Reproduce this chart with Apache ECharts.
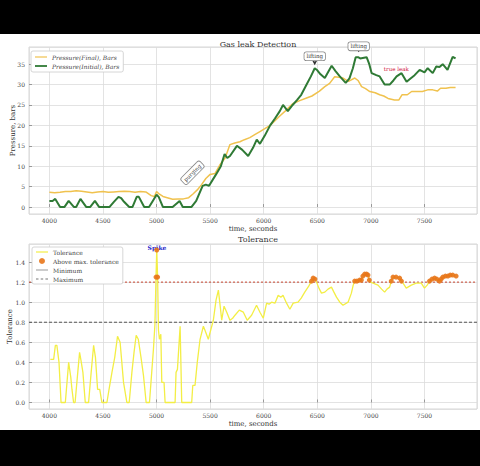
<!DOCTYPE html>
<html>
<head>
<meta charset="utf-8">
<script src="https://cdn.jsdelivr.net/npm/echarts@6/dist/echarts.min.js"></script>
<style>
  html, body { margin: 0; padding: 0; background: #000; }
  #chart { position: absolute; left: 0; top: 34px; width: 480px; height: 396px; background: #fff; }
</style>
</head>
<body>
<div id="chart"></div>
<script>
// ─── data ───────────────────────────────────────────────────
const finalTime = [4000, 4050, 4100, 4150, 4200, 4250, 4300, 4350, 4400, 4450, 4500, 4550, 4600, 4650, 4700, 4750, 4800, 4850, 4900, 4950, 4980, 5000, 5020, 5060, 5100, 5150, 5200, 5250, 5300, 5340, 5380, 5420, 5460, 5500, 5545, 5590, 5640, 5685, 5730, 5778, 5820, 5870, 5920, 5965, 6010, 6060, 6100, 6150, 6200, 6270, 6330, 6400, 6450, 6520, 6570, 6615, 6662, 6700, 6740, 6790, 6850, 6880, 6913, 6950, 6990, 7040, 7082, 7120, 7160, 7220, 7260, 7290, 7340, 7380, 7430, 7480, 7530, 7577, 7620, 7650, 7700, 7740, 7790];
const finalP = [3.6, 3.5, 3.6, 3.8, 3.8, 4.0, 3.9, 3.7, 3.5, 3.7, 3.8, 3.6, 3.7, 3.8, 3.9, 3.8, 3.6, 3.8, 3.7, 2.8, 2.6, 3.8, 3.3, 2.6, 2.3, 1.9, 2.0, 2.0, 2.3, 3.2, 4.2, 5.5, 7.0, 8.0, 8.2, 10.3, 12.0, 15.3, 15.7, 16.0, 16.5, 17.0, 17.8, 18.5, 19.2, 20.0, 21.0, 22.3, 23.5, 25.3, 26.0, 26.7, 27.2, 28.4, 29.5, 30.3, 31.9, 31.8, 31.6, 30.8, 31.6, 31.0, 29.5, 29.0, 28.3, 28.0, 27.5, 27.2, 26.6, 26.2, 26.2, 27.5, 27.5, 28.3, 28.3, 28.3, 28.7, 28.7, 28.4, 29.1, 29.1, 29.3, 29.3];

const initTime = [4000, 4030, 4055, 4100, 4140, 4180, 4230, 4250, 4290, 4345, 4380, 4425, 4465, 4560, 4600, 4645, 4670, 4690, 4745, 4775, 4815, 4835, 4885, 4930, 4965, 5000, 5020, 5060, 5150, 5215, 5245, 5325, 5370, 5430, 5460, 5490, 5555, 5600, 5635, 5660, 5685, 5750, 5800, 5855, 5900, 5935, 5965, 6010, 6060, 6105, 6150, 6180, 6225, 6270, 6310, 6350, 6400, 6440, 6476, 6500, 6530, 6570, 6600, 6634, 6670, 6710, 6765, 6800, 6832, 6858, 6880, 6900, 6960, 6985, 7007, 7050, 7082, 7128, 7175, 7210, 7240, 7286, 7333, 7370, 7408, 7455, 7500, 7530, 7577, 7610, 7640, 7670, 7715, 7763, 7790];
const initP = [1.5, 1.5, 2.0, 0, 0, 1.5, 0, 0, 2.0, 0, 0, 1.5, 0, 0, 1.2, 2.5, 2.2, 1.5, 0, 0, 2.5, 2.5, 0, 0, 1.5, 3.0, 2.5, 0, 0, 1.5, 0, 0, 1.5, 5.2, 5.5, 5.2, 8.0, 10.0, 13.0, 12.0, 12.5, 15.0, 14.0, 12.5, 14.5, 16.5, 15.5, 17.5, 20.0, 21.7, 23.5, 25.0, 23.5, 25.0, 26.2, 27.5, 30.0, 32.0, 34.0, 33.5, 32.5, 31.6, 33.0, 34.6, 33.3, 32.0, 30.4, 31.5, 34.0, 36.7, 36.7, 36.4, 36.7, 35.0, 32.8, 32.3, 32.0, 30.0, 30.0, 31.0, 32.0, 32.8, 30.7, 31.5, 32.3, 33.6, 33.0, 34.0, 32.8, 34.4, 34.3, 35.0, 33.6, 36.8, 36.4];

const tolTime = [4009, 4040, 4056, 4070, 4090, 4109, 4149, 4180, 4200, 4211, 4226, 4240, 4265, 4282, 4295, 4313, 4335, 4366, 4390, 4413, 4430, 4450, 4470, 4490, 4537, 4560, 4584, 4610, 4636, 4660, 4692, 4723, 4745, 4770, 4790, 4810, 4830, 4855, 4878, 4903, 4934, 4955, 4971, 4985, 4995, 5002, 5010, 5018, 5027, 5040, 5049, 5070, 5080, 5173, 5182, 5195, 5220, 5235, 5328, 5338, 5359, 5380, 5406, 5437, 5452, 5483, 5505, 5530, 5555, 5577, 5595, 5608, 5630, 5655, 5685, 5710, 5732, 5772, 5810, 5846, 5887, 5933, 5965, 5996, 6027, 6050, 6073, 6105, 6135, 6160, 6180, 6213, 6244, 6275, 6320, 6350, 6383, 6420, 6446, 6461, 6478, 6493, 6515, 6539, 6570, 6600, 6632, 6655, 6679, 6710, 6740, 6787, 6818, 6835, 6849, 6870, 6895, 6911, 6925, 6942, 6960, 6973, 6985, 7000, 7020, 7066, 7100, 7128, 7150, 7175, 7190, 7206, 7235, 7268, 7285, 7300, 7330, 7377, 7423, 7470, 7500, 7525, 7547, 7570, 7594, 7615, 7640, 7655, 7671, 7695, 7718, 7740, 7764, 7795];
const tolVal = [0.43, 0.43, 0.57, 0.57, 0.40, 0, 0, 0.40, 0.25, 0.13, 0, 0, 0.30, 0.50, 0.42, 0.30, 0, 0, 0.30, 0.57, 0.45, 0.13, 0.13, 0, 0, 0.15, 0.30, 0.45, 0.66, 0.60, 0.20, 0, 0, 0.30, 0.50, 0.67, 0.63, 0.45, 0.27, 0, 0, 0.30, 0.53, 0.78, 1.25, 1.52, 1.25, 0.72, 0.63, 0.68, 0.20, 0.20, 0, 0, 0.30, 0.33, 0.76, 0, 0, 0.17, 0.17, 0.40, 0.63, 0.76, 0.72, 0.63, 0.72, 0.82, 1.02, 1.12, 0.95, 0.82, 0.96, 0.90, 0.82, 0.84, 0.87, 0.92, 0.90, 0.82, 0.87, 0.97, 0.90, 0.84, 0.99, 0.98, 1.00, 0.99, 1.07, 1.05, 1.07, 0.99, 0.93, 0.99, 1.00, 1.04, 1.10, 1.16, 1.21, 1.24, 1.23, 1.20, 1.14, 1.09, 1.10, 1.13, 1.15, 1.10, 1.05, 1.00, 0.97, 1.00, 1.09, 1.17, 1.21, 1.21, 1.22, 1.22, 1.26, 1.28, 1.28, 1.27, 1.22, 1.20, 1.19, 1.17, 1.13, 1.10, 1.13, 1.15, 1.21, 1.25, 1.25, 1.24, 1.21, 1.19, 1.14, 1.17, 1.19, 1.19, 1.14, 1.17, 1.21, 1.23, 1.24, 1.23, 1.21, 1.23, 1.25, 1.26, 1.26, 1.27, 1.27, 1.26];

const tolMin = 0.8;
const tolMax = 1.2;
const timeRange = [3810, 7990];
const pressRange = [-1.7, 39.2];
const tolRange = [-0.065, 1.58];

// annotations: [time, value]
const purgingAt = [5335, 8.4];
const lifting1At = [6476, 34.0];
const lifting2At = [6886, 37.4];
const trueLeakAt = [7237, 33.8];
const spikeAt = [5004, 1.55];

const pairs = (xs, ys) => xs.map((x, i) => [x, ys[i]]);
const abovePts = pairs(tolTime, tolVal).filter(p => p[1] > tolMax);

const SERIF = '"DejaVu Serif", "Liberation Serif", serif';
const GRID_LINE = { lineStyle: { color: '#dcdcdc', width: 0.8 } };

// legend icons: thin line / dashed line inside a 12x6 box
const ICON_LINE = 'path://M0,0M12,6M0,2.4h12v1.2h-12z';
const ICON_THICK = 'path://M0,0M12,6M0,2.1h12v1.8h-12z';
const ICON_DASH = 'path://M0,0M12,6M0,2.5h2.5v1h-2.5zM4.7,2.5h2.5v1h-2.5zM9.4,2.5h2.6v1h-2.6z';

function xAxisFor(gridIndex) {
  return {
    type: 'value', gridIndex,
    min: timeRange[0], max: timeRange[1], splitNumber: 8,
    name: 'time, seconds', nameLocation: 'middle', nameMoveOverlap: false,
    nameGap: gridIndex === 0 ? 11 : 11,
    nameTextStyle: { fontFamily: SERIF, fontSize: 7, color: '#333' },
    axisLine: { show: false },
    axisTick: { show: true, inside: true, length: 3, lineStyle: { color: '#999' } },
    axisLabel: { fontFamily: SERIF, fontSize: 6, color: '#444', margin: 3, showMinLabel: false, showMaxLabel: false,
      formatter: v => String(v) },
    splitLine: { show: true, ...GRID_LINE }
  };
}

function yAxisFor(gridIndex, range, name, gap, fmt) {
  return {
    type: 'value', gridIndex,
    min: range[0], max: range[1], splitNumber: 8,
    name, nameLocation: 'middle', nameGap: gap, nameMoveOverlap: false,
    nameTextStyle: { fontFamily: SERIF, fontSize: 7, color: '#333' },
    axisLine: { show: false },
    axisTick: { show: true, inside: true, length: 3, lineStyle: { color: '#999' } },
    axisLabel: { fontFamily: SERIF, fontSize: 6, color: '#444', margin: 4, showMinLabel: false, showMaxLabel: false, formatter: fmt },
    splitLine: { show: true, ...GRID_LINE }
  };
}

const boxLabel = {
  show: true, fontFamily: SERIF, fontSize: 5.5, color: '#333',
  backgroundColor: '#fff', borderColor: '#888', borderWidth: 0.8, borderRadius: 2, padding: [1, 2]
};

const chart = echarts.init(document.getElementById('chart'), null, { renderer: 'svg' });

chart.setOption({
  animation: false,
  backgroundColor: '#fff',
  title: [
    { text: 'Gas leak Detection', left: 253, top: 1, textAlign: 'center',
      textStyle: { fontFamily: SERIF, fontSize: 8, fontWeight: 'normal', color: '#333' } },
    { text: 'Tolerance', left: 253, top: 196, textAlign: 'center',
      textStyle: { fontFamily: SERIF, fontSize: 8, fontWeight: 'normal', color: '#333' } }
  ],
  legend: [
    { orient: 'vertical', left: 31, top: 17, itemWidth: 12, itemHeight: 6, itemGap: 3,
      padding: [3, 4], backgroundColor: '#fff', borderColor: '#ccc', borderWidth: 0.8, borderRadius: 2,
      textStyle: { fontFamily: SERIF, fontStyle: 'italic', fontSize: 6, color: '#444' },
      data: [
        { name: 'Pressure(Final), Bars', icon: ICON_LINE },
        { name: 'Pressure(Initial), Bars', icon: ICON_THICK }
      ] },
    { orient: 'vertical', left: 32, top: 213, itemWidth: 12, itemHeight: 6, itemGap: 3,
      padding: [2, 4], backgroundColor: '#fff', borderColor: '#ccc', borderWidth: 0.8, borderRadius: 2,
      textStyle: { fontFamily: SERIF, fontSize: 6, color: '#444' },
      data: [
        { name: 'Tolerance', icon: ICON_LINE },
        { name: 'Above max. tolerance', icon: 'circle' },
        { name: 'Minimum', icon: ICON_LINE },
        { name: 'Maximum', icon: ICON_DASH }
      ] }
  ],
  grid: [
    { left: 29, right: 3, top: 13, height: 167, outerBoundsMode: 'none', containLabel: false,
      show: true, borderColor: '#ccc', borderWidth: 0.8, backgroundColor: '#fff' },
    { left: 29, right: 3, top: 210, height: 165, outerBoundsMode: 'none', containLabel: false,
      show: true, borderColor: '#ccc', borderWidth: 0.8, backgroundColor: '#fff' }
  ],
  xAxis: [xAxisFor(0), xAxisFor(1)],
  yAxis: [
    yAxisFor(0, pressRange, 'Pressure, bars', 13, v => String(Math.round(v))),
    yAxisFor(1, tolRange, 'Tolerance', 16, v => v.toFixed(1))
  ],
  series: [
    {
      name: 'Pressure(Final), Bars', type: 'line', xAxisIndex: 0, yAxisIndex: 0,
      data: pairs(finalTime, finalP), symbol: 'none',
      lineStyle: { color: '#f0c24e', width: 1.5 }, itemStyle: { color: '#f0c24e' }, z: 3
    },
    {
      name: 'Pressure(Initial), Bars', type: 'line', xAxisIndex: 0, yAxisIndex: 0,
      data: pairs(initTime, initP), symbol: 'none',
      lineStyle: { color: '#2f7a35', width: 2 }, itemStyle: { color: '#2f7a35' }, z: 4,
      markPoint: {
        silent: true,
        data: [
          { coord: purgingAt, symbolSize: 0, label: { ...boxLabel, rotate: 45, position: 'inside', formatter: 'purging' } },
          { coord: lifting1At, symbol: 'arrow', symbolRotate: 180, symbolSize: [4, 5], symbolOffset: [0, -3],
            itemStyle: { color: '#333' }, label: { ...boxLabel, position: 'top', distance: 0, formatter: 'lifting' } },
          { coord: lifting2At, symbol: 'arrow', symbolRotate: 180, symbolSize: [4, 4], symbolOffset: [0, -2],
            itemStyle: { color: '#333' }, label: { ...boxLabel, position: 'top', distance: -2, formatter: 'lifting' } },
          { coord: trueLeakAt, symbolSize: 0,
            label: { show: true, position: 'inside', formatter: 'true leak', fontFamily: SERIF, fontSize: 5.5, color: '#d0103a' } }
        ]
      }
    },
    {
      name: 'Tolerance', type: 'line', xAxisIndex: 1, yAxisIndex: 1,
      data: pairs(tolTime, tolVal), symbol: 'none',
      lineStyle: { color: '#f3ee45', width: 1.3 }, itemStyle: { color: '#f3ee45' }, z: 3,
      markPoint: {
        silent: true,
        data: [
          { coord: spikeAt, symbolSize: 0,
            label: { show: true, position: 'inside', formatter: 'Spike', fontFamily: SERIF, fontSize: 6, fontWeight: 'bold', color: '#1a1ac8' } }
        ]
      }
    },
    {
      name: 'Above max. tolerance', type: 'scatter', xAxisIndex: 1, yAxisIndex: 1,
      data: abovePts, symbol: 'circle', symbolSize: 5,
      itemStyle: { color: '#e8751a', opacity: 0.9 }, z: 5
    },
    {
      name: 'Minimum', type: 'line', xAxisIndex: 1, yAxisIndex: 1,
      data: [[timeRange[0], tolMin], [timeRange[1], tolMin]], symbol: 'none',
      lineStyle: { color: '#555', width: 1, type: [3, 2] }, itemStyle: { color: '#aaa' }, z: 2
    },
    {
      name: 'Maximum', type: 'line', xAxisIndex: 1, yAxisIndex: 1,
      data: [[timeRange[0], tolMax], [timeRange[1], tolMax]], symbol: 'none',
      lineStyle: { color: '#c8432e', width: 1, type: [2, 2] }, itemStyle: { color: '#777' }, z: 2
    }
  ]
});
</script>
</body>
</html>
